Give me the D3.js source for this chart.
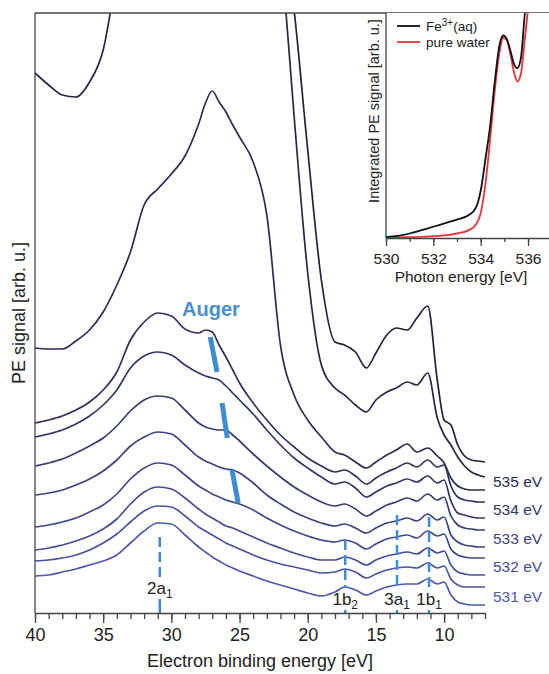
<!DOCTYPE html>
<html>
<head>
<meta charset="utf-8">
<script src="https://cdn.jsdelivr.net/npm/d3@7"></script>
<style>
  html, body { margin: 0; padding: 0; background: #fff; }
  svg { display: block; }
</style>
</head>
<body>
<svg id="chart" width="549" height="674"></svg>
<script>
// binding energy grid shared by all spectra [eV]
const bindingEnergy = [40, 39, 38, 37, 36, 35, 34, 33, 32, 31, 30, 29, 28, 27.5, 27, 26.5, 26, 25.5, 25,
  24, 23, 22, 21, 20, 19, 18, 17.3, 16.5, 15.7, 15, 14.2, 13.5, 12.7, 12, 11.2, 10.5, 10, 9.5, 9, 8.5, 8, 7.5, 7];

// PE spectra, offset, arb. units (values above 600 run off the top of the plot)
const pe536 = [960, 970, 985, 1000, 1010, 1020, 1030, 1040, 1050, 1050, 1040, 1030, 1010, 1000, 990, 975, 960, 940, 920,
  870, 800, 705, 603, 463, 333, 271, 268, 261, 245, 260, 278, 285, 283, 295, 307, 233, 193, 188, 168, 157, 153, 152, 151];
const pe535_5 = [540, 528, 518, 516, 531, 563, 640, 720, 780, 830, 870, 900, 920, 930, 935, 935, 930, 920, 905,
  870, 810, 670, 497, 340, 248, 225, 218, 208, 201, 213, 221, 225, 231, 228, 240, 195, 178, 168, 156, 147, 141, 138, 136];
const pe535 = [265, 264, 264, 272, 283, 301, 328, 361, 408, 424, 439, 457, 489, 510, 522, 511, 501, 488, 476,
  451, 398, 268, 218, 193, 176, 161, 158, 151, 145, 151, 158, 163, 169, 161, 165, 157, 150, 135, 127, 124, 123, 123, 123];
const pe534_5 = [190, 193, 197, 203, 211, 223, 241, 273, 291, 300, 297, 284, 280, 283, 281, 268, 256, 243, 230,
  210, 193, 178, 166, 155, 147, 141, 143, 137, 129, 135, 141, 145, 150, 146, 153, 146, 148, 127, 116, 113, 112, 111, 111];
const pe534 = [176, 179, 183, 189, 197, 208, 223, 245, 257, 261, 258, 248, 240, 237, 235, 233, 227, 220, 213,
  199, 183, 168, 155, 145, 136, 129, 131, 125, 116, 121, 127, 130, 134, 131, 137, 130, 133, 112, 100, 98, 96, 95, 95];
const pe533_5 = [147, 150, 154, 160, 167, 175, 187, 202, 213, 217, 215, 203, 190, 186, 184, 183, 183, 178, 172,
  159, 147, 136, 126, 118, 111, 107, 109, 104, 97, 102, 108, 111, 115, 112, 119, 113, 116, 97, 88, 85, 84, 83, 83];
const pe533 = [118, 120, 123, 128, 134, 142, 153, 167, 176, 181, 179, 168, 156, 152, 149, 146, 144, 143, 140,
  130, 118, 109, 101, 95, 90, 87, 89, 85, 80, 85, 90, 92, 95, 92, 99, 93, 96, 78, 71, 68, 67, 66, 66];
const pe532_5 = [86, 88, 91, 95, 101, 108, 119, 134, 145, 150, 148, 138, 127, 123, 119, 116, 113, 111, 109,
  103, 95, 88, 82, 77, 73, 71, 73, 70, 64, 69, 74, 76, 78, 75, 82, 77, 79, 64, 58, 56, 55, 55, 55];
const pe532 = [63, 65, 68, 72, 77, 84, 94, 109, 121, 126, 124, 115, 104, 99, 95, 91, 87, 85, 82,
  76, 70, 65, 60, 56, 53, 53, 56, 53, 48, 53, 57, 59, 61, 59, 65, 60, 62, 48, 41, 39, 38, 38, 38];
const pe531_5 = [52, 53, 55, 58, 63, 70, 79, 91, 102, 107, 106, 97, 86, 82, 78, 74, 70, 67, 64,
  58, 53, 49, 46, 43, 40, 41, 44, 41, 35, 39, 43, 45, 46, 45, 50, 45, 47, 34, 28, 26, 26, 26, 26];
const pe531 = [37, 38, 41, 44, 48, 52, 58, 70, 82, 90, 89, 78, 66, 61, 56, 52, 48, 45, 42,
  37, 32, 28, 24, 20, 17, 21, 26, 23, 18, 22, 26, 28, 29, 29, 34, 29, 31, 18, 11, 9, 8, 8, 8];

const photonEnergies = [536, 535.5, 535, 534.5, 534, 533.5, 533, 532.5, 532, 531.5, 531];
const spectra = [pe536, pe535_5, pe535, pe534_5, pe534, pe533_5, pe533, pe532_5, pe532, pe531_5, pe531];
const labelledPhoton = [535, 534, 533, 532, 531];

// valence orbitals of liquid water
const orbitalNames = ["2a", "1b", "3a", "1b"];
const orbitalSubs = ["1", "2", "1", "1"];
const orbitalEnergy = [30.85, 17.25, 13.45, 11.1];
const orbitalDashTop = [76, 73, 98, 96];
const orbitalLabelSig = [19, 8, 8, 8];

// Auger marks: [start, end] binding energy and signal
const augerEnergy = [[27.15, 26.65], [26.28, 25.9], [25.55, 25.1]];
const augerSignal = [[276, 241], [210, 175], [143, 110]];

const majorTicks = [40, 35, 30, 25, 20, 15, 10];

// inset: integrated PE signal vs photon energy
const photonEnergy = [530, 530.5, 531, 531.5, 532, 532.5, 533, 533.5, 533.8, 534, 534.2, 534.4, 534.6, 534.8,
  534.95, 535.1, 535.25, 535.4, 535.55, 535.7, 535.85, 536, 536.15];
const feSignal = [0.004, 0.009, 0.02, 0.035, 0.05, 0.066, 0.082, 0.102, 0.135, 0.21, 0.35, 0.50, 0.70, 0.86,
  0.90, 0.885, 0.835, 0.775, 0.755, 0.80, 0.98, 1.15, 1.3];
const waterSignal = [0.002, 0.003, 0.004, 0.005, 0.008, 0.012, 0.02, 0.035, 0.06, 0.11, 0.24, 0.44, 0.66, 0.83,
  0.89, 0.88, 0.82, 0.74, 0.695, 0.73, 0.87, 1.02, 1.2];
const insetMajorTicks = [530, 532, 534, 536];

const FONT = "'Liberation Sans', Arial, Helvetica, sans-serif";
const svg = d3.select("#chart");

const x = d3.scaleLinear().domain([40, 7]).range([35, 485]);
const y = d3.scaleLinear().domain([0, 600]).range([613, 13]);
const color = d3.scaleLinear().domain([0, spectra.length - 1])
  .range(["#22223a", "#4d58b0"]).interpolate(d3.interpolateRgb);

svg.append("clipPath").attr("id", "plotClip")
  .append("rect").attr("x", 35).attr("y", 13).attr("width", 514).attr("height", 600);

// spectra
const line = d3.line()
  .x((d, i) => x(bindingEnergy[i]))
  .y(d => y(d))
  .curve(d3.curveMonotoneX);

svg.append("g").attr("clip-path", "url(#plotClip)")
  .selectAll("path")
  .data(spectra)
  .enter()
  .append("path")
  .attr("d", d => line(d))
  .attr("fill", "none")
  .attr("stroke", (d, i) => color(i))
  .attr("stroke-width", 1.7);

// photon energy labels at the right end of the spectra
svg.append("g").selectAll("text")
  .data(labelledPhoton)
  .enter()
  .append("text")
  .attr("x", x(7) + 8)
  .attr("y", d => {
    const s = spectra[photonEnergies.indexOf(d)];
    return y(s[s.length - 1]) - 3;
  })
  .attr("font-family", FONT)
  .attr("font-size", 15.5)
  .attr("fill", d => color(photonEnergies.indexOf(d)))
  .text(d => d + " eV");

// orbital dashed markers
const orb = svg.append("g");
orbitalEnergy.forEach((e, i) => {
  const yl = y(orbitalLabelSig[i]);
  orb.append("line")
    .attr("x1", x(e)).attr("x2", x(e))
    .attr("y1", y(orbitalDashTop[i])).attr("y2", yl - 17)
    .attr("stroke", "#3d8ed6").attr("stroke-width", 2.5)
    .attr("stroke-dasharray", "10,5");
  orb.append("line")
    .attr("x1", x(e)).attr("x2", x(e))
    .attr("y1", yl + 5).attr("y2", y(0))
    .attr("stroke", "#3d8ed6").attr("stroke-width", 2.5);
  const t = orb.append("text")
    .attr("x", x(e)).attr("y", yl)
    .attr("text-anchor", "middle")
    .attr("font-family", FONT).attr("font-size", 17).attr("fill", "#222");
  t.append("tspan").text(orbitalNames[i]);
  t.append("tspan").attr("font-size", 12).attr("dy", 4).text(orbitalSubs[i]);
});

// Auger marks
svg.append("g").selectAll("line")
  .data(augerEnergy)
  .enter()
  .append("line")
  .attr("x1", d => x(d[0])).attr("x2", d => x(d[1]))
  .attr("y1", (d, i) => y(augerSignal[i][0])).attr("y2", (d, i) => y(augerSignal[i][1]))
  .attr("stroke", "#3c8dd5").attr("stroke-width", 5);

svg.append("text")
  .attr("x", x(27.1)).attr("y", y(297))
  .attr("text-anchor", "middle")
  .attr("font-family", FONT).attr("font-size", 20).attr("font-weight", "bold")
  .attr("fill", "#4a8fd4")
  .text("Auger");

// axes
const gx = svg.append("g").attr("transform", `translate(0,${y(0)})`);
gx.call(d3.axisBottom(x).tickValues(d3.range(40, 6, -1)).tickSize(6).tickFormat("").tickSizeOuter(0));
gx.append("g")
  .call(d3.axisBottom(x).tickValues(majorTicks).tickSize(10).tickPadding(5).tickSizeOuter(0))
  .call(g => g.select(".domain").remove());
gx.selectAll("line, path").attr("stroke", "#444").attr("stroke-width", 1.3);
gx.selectAll("text").attr("font-family", FONT).attr("font-size", 18).attr("fill", "#222");

svg.append("line").attr("x1", 35).attr("x2", 35).attr("y1", 13).attr("y2", y(0))
  .attr("stroke", "#444").attr("stroke-width", 1.3);
svg.append("line").attr("x1", 35).attr("x2", 549).attr("y1", 13).attr("y2", 13)
  .attr("stroke", "#444").attr("stroke-width", 1.3);

svg.append("text")
  .attr("x", 260).attr("y", 667)
  .attr("text-anchor", "middle")
  .attr("font-family", FONT).attr("font-size", 18).attr("fill", "#222")
  .text("Electron binding energy [eV]");

svg.append("text")
  .attr("transform", "translate(25,313) rotate(-90)")
  .attr("text-anchor", "middle")
  .attr("font-family", FONT).attr("font-size", 18).attr("fill", "#222")
  .text("PE signal [arb. u.]");

// inset
const ix = d3.scaleLinear().domain([530, 537]).range([386, 551.7]);
const iy = d3.scaleLinear().domain([0, 1]).range([238, 13]);
const inset = svg.append("g");

inset.append("rect").attr("x", 386).attr("y", 13).attr("width", 163).attr("height", 225).attr("fill", "#fff");
svg.append("clipPath").attr("id", "insetClip")
  .append("rect").attr("x", 386).attr("y", 13).attr("width", 163).attr("height", 225);

const iline = d3.line()
  .x((d, i) => ix(photonEnergy[i]))
  .y(d => iy(d))
  .curve(d3.curveMonotoneX);

const insetCurves = inset.append("g").attr("clip-path", "url(#insetClip)");
insetCurves.append("path").attr("d", iline(waterSignal))
  .attr("fill", "none").attr("stroke", "#e8333a").attr("stroke-width", 1.8);
insetCurves.append("path").attr("d", iline(feSignal))
  .attr("fill", "none").attr("stroke", "#111").attr("stroke-width", 1.8);

const gix = inset.append("g").attr("transform", `translate(0,${iy(0)})`);
gix.call(d3.axisBottom(ix).tickValues(d3.range(530, 538)).tickSize(4).tickFormat("").tickSizeOuter(0));
gix.append("g")
  .call(d3.axisBottom(ix).tickValues(insetMajorTicks).tickFormat(d3.format("d"))
    .tickSize(8).tickPadding(7).tickSizeOuter(0))
  .call(g => g.select(".domain").remove());
gix.selectAll("line, path").attr("stroke", "#444").attr("stroke-width", 1.3);
gix.selectAll("text").attr("font-family", FONT).attr("font-size", 15.5).attr("fill", "#222");

inset.append("line").attr("x1", 386).attr("x2", 386).attr("y1", 13).attr("y2", iy(0))
  .attr("stroke", "#444").attr("stroke-width", 1.3);

inset.append("text")
  .attr("x", 461).attr("y", 282)
  .attr("text-anchor", "middle")
  .attr("font-family", FONT).attr("font-size", 15.5).attr("fill", "#222")
  .text("Photon energy [eV]");

inset.append("text")
  .attr("transform", "translate(379,111) rotate(-90)")
  .attr("text-anchor", "middle")
  .attr("font-family", FONT).attr("font-size", 14.5).attr("fill", "#222")
  .text("Integrated PE signal [arb. u.]");

// legend
const legend = inset.append("g").attr("font-family", FONT).attr("font-size", 13.5).attr("fill", "#222");
legend.append("line").attr("x1", 397).attr("x2", 420).attr("y1", 26).attr("y2", 26)
  .attr("stroke", "#111").attr("stroke-width", 1.8);
legend.append("line").attr("x1", 397).attr("x2", 420).attr("y1", 42).attr("y2", 42)
  .attr("stroke", "#e8333a").attr("stroke-width", 1.8);
const fe = legend.append("text").attr("x", 426).attr("y", 31);
fe.append("tspan").text("Fe");
fe.append("tspan").attr("font-size", 10).attr("dy", -5).text("3+");
fe.append("tspan").attr("dy", 5).text("(aq)");
legend.append("text").attr("x", 426).attr("y", 47).text("pure water");
</script>
</body>
</html>
